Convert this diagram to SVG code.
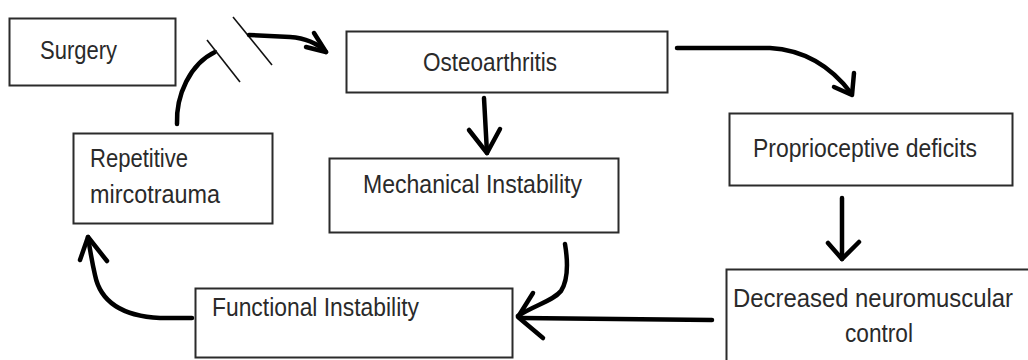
<svg xmlns="http://www.w3.org/2000/svg" width="1028" height="360" viewBox="0 0 1028 360">
  <style>
    .box { fill: #ffffff; stroke: #2b2b2b; stroke-width: 2; }
    .lbl { font-family: "Liberation Sans", Arial, sans-serif; font-size: 25px; fill: #2a2a2a; }
    .arr { fill: none; stroke: #000; stroke-width: 4.5; stroke-linecap: round; stroke-linejoin: round; }
    .brk { fill: none; stroke: #111; stroke-width: 1.6; }
  </style>
  <rect x="0" y="0" width="1028" height="360" fill="#ffffff"/>

  <g id="connectors">
    <!-- Repetitive -> Osteoarthritis (with break marks) -->
    <path class="arr" d="M177,124 C176,95 190,64 215,52"/>
    <path class="brk" d="M207,40 L240,82"/>
    <path class="brk" d="M233,17 L272,65"/>
    <path class="arr" d="M249,35 L290,37 C305,38 318,44 326,52"/>
    <path class="arr" d="M314,33 L326,52 L306,47"/>
    <!-- Osteoarthritis -> Mechanical -->
    <path class="arr" d="M484,98 L487,153"/>
    <path class="arr" d="M469,130 L487,153 L500,129"/>
    <!-- Osteoarthritis -> Proprioceptive -->
    <path class="arr" d="M677,48 L770,48 C805,50 832,68 851,93"/>
    <path class="arr" d="M834,87 L852,95 L854,73"/>
    <!-- Proprioceptive -> Decreased -->
    <path class="arr" d="M842,198 L842,259"/>
    <path class="arr" d="M828,243 L842,259 L859,242"/>
    <!-- Decreased -> Functional -->
    <path class="arr" d="M712,320 L521,318"/>
    <path class="arr" d="M533,293 L518,317 L543,338"/>
    <!-- Mechanical -> Functional -->
    <path class="arr" d="M565,244 C568,262 568,280 561,291 C553,301 535,305 518,316"/>
    <!-- Functional -> Repetitive -->
    <path class="arr" d="M192,318 L160,318 C120,316 100,300 95,275 C92,262 90,250 88,237"/>
    <path class="arr" d="M80,260 L88,237 L107,261"/>
  </g>

  <g id="surgery">
    <rect class="box" x="9.5" y="18.5" width="166" height="67"/>
    <text class="lbl" x="40" y="59" textLength="77" lengthAdjust="spacingAndGlyphs">Surgery</text>
  </g>

  <g id="osteoarthritis">
    <rect class="box" x="346.5" y="31.5" width="321" height="61"/>
    <text class="lbl" x="423" y="71" textLength="134" lengthAdjust="spacingAndGlyphs">Osteoarthritis</text>
  </g>

  <g id="proprioceptive">
    <rect class="box" x="729.5" y="113.5" width="283" height="72"/>
    <text class="lbl" x="753" y="157" textLength="224" lengthAdjust="spacingAndGlyphs">Proprioceptive deficits</text>
  </g>

  <g id="repetitive">
    <rect class="box" x="73.5" y="133.5" width="199" height="90"/>
    <text class="lbl" x="90" y="167" textLength="98" lengthAdjust="spacingAndGlyphs">Repetitive</text>
    <text class="lbl" x="90" y="203" textLength="130" lengthAdjust="spacingAndGlyphs">mircotrauma</text>
  </g>

  <g id="mechanical">
    <rect class="box" x="329.5" y="158.5" width="289" height="74"/>
    <text class="lbl" x="363" y="193" textLength="219" lengthAdjust="spacingAndGlyphs">Mechanical Instability</text>
  </g>

  <g id="functional">
    <rect class="box" x="195.5" y="288.5" width="317" height="69"/>
    <text class="lbl" x="212" y="316" textLength="207" lengthAdjust="spacingAndGlyphs">Functional Instability</text>
  </g>

  <g id="decreased">
    <rect class="box" x="726.5" y="269.5" width="310" height="100"/>
    <text class="lbl" x="733" y="307" textLength="280" lengthAdjust="spacingAndGlyphs">Decreased neuromuscular</text>
    <text class="lbl" x="845" y="342" textLength="68" lengthAdjust="spacingAndGlyphs">control</text>
  </g>
</svg>
